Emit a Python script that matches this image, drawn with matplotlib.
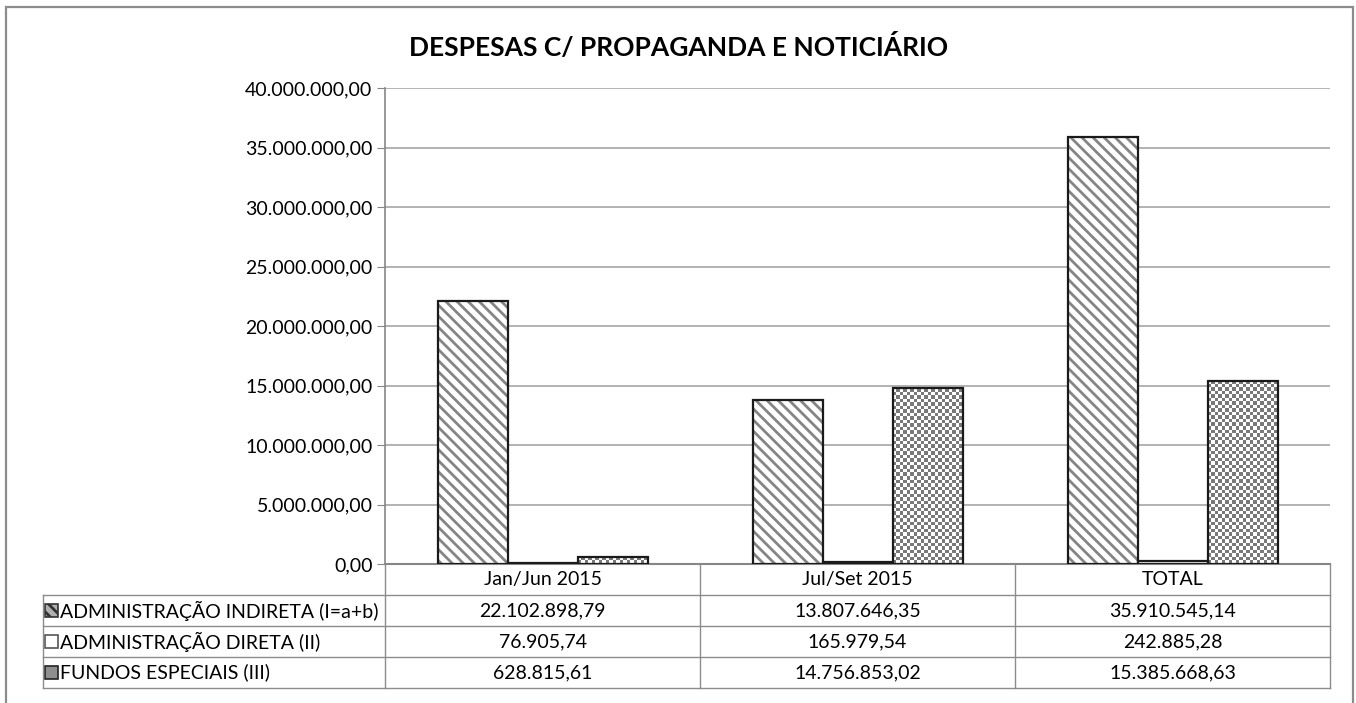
import matplotlib.pyplot as plt
import numpy as np
from matplotlib.patches import Rectangle
from matplotlib.lines import Line2D

plt.rcParams['font.family'] = ['Lato', 'DejaVu Sans']
plt.rcParams['hatch.linewidth'] = 2.0

categories = ['Jan/Jun 2015', 'Jul/Set 2015', 'TOTAL']
series_names = ['ADMINISTRAÇÃO INDIRETA (I=a+b)', 'ADMINISTRAÇÃO DIRETA (II)', 'FUNDOS ESPECIAIS (III)']
indireta = [22102898.79, 13807646.35, 35910545.14]
direta = [76905.74, 165979.54, 242885.28]
fundos = [628815.61, 14756853.02, 15385668.63]
y_ticks = [0, 5e6, 10e6, 15e6, 20e6, 25e6, 30e6, 35e6, 40e6]


def br(v):
    # brazilian number format 1.234.567,89
    return f'{v:,.2f}'.replace(',', 'X').replace('.', ',').replace('X', '.')


W, H = 1356, 703
fs = 14


def fx(px):
    return px / W


def fy(py):
    return 1 - py / H


fig = plt.figure(figsize=(W / 100, H / 100), dpi=100)
ax = fig.add_axes([fx(385), fy(564), 945 / W, 476 / H])

x = np.arange(len(categories))
bw = 70 / 315
grid_c = '#a6a6a6'
edge_c = '#1a1a1a'
line_c = '#8c8c8c'

# diagonal hatched bars (indireta)
ax.bar(x - bw, indireta, bw, color='white', hatch='\\\\\\', edgecolor='#858585', linewidth=0, zorder=3)
ax.bar(x - bw, indireta, bw, fill=False, edgecolor=edge_c, linewidth=1.6, zorder=4)
# white bars (direta)
ax.bar(x, direta, bw, color='white', edgecolor=edge_c, linewidth=1.6, zorder=4)
# checkerboard bars (fundos)
fb = ax.bar(x + bw, fundos, bw, color='white', linewidth=0, zorder=3)
ax.bar(x + bw, fundos, bw, fill=False, edgecolor=edge_c, linewidth=1.6, zorder=4)

ax.set_xlim(-0.5, 2.5)
ax.set_ylim(0, 40e6)

# fill the fundos bars with a checker pattern, cell ~3.5 px
for p in fb:
    x0, y0 = p.get_x(), p.get_y()
    x1, y1 = x0 + p.get_width(), y0 + p.get_height()
    (px0, py0), (px1, py1) = ax.transData.transform([(x0, y0), (x1, y1)])
    nx = max(1, int(round((px1 - px0) / 3.5)))
    ny = max(1, int(round((py1 - py0) / 3.5)))
    chk = (np.add.outer(np.arange(ny), np.arange(nx)) % 2).astype(float)
    im = ax.imshow(chk, cmap='gray', vmin=-0.9, vmax=1.0, extent=(x0, x1, y0, y1),
                   aspect='auto', interpolation='nearest', zorder=3.5, origin='lower')
    im.set_clip_path(p)
ax.set_xlim(-0.5, 2.5)
ax.set_ylim(0, 40e6)

ax.set_yticks(y_ticks)
ax.set_yticklabels([br(v) for v in y_ticks], fontsize=fs)
ax.yaxis.grid(True, color=grid_c, linewidth=1.2, zorder=0)
ax.set_axisbelow(True)
ax.tick_params(axis='y', length=6, color='#868686', pad=3)
ax.set_xticks([])
for s in ['top', 'right']:
    ax.spines[s].set_visible(False)
ax.spines['left'].set_color('#868686')
ax.spines['bottom'].set_color('#868686')
ax.spines['left'].set_linewidth(1.2)
ax.spines['bottom'].set_linewidth(1.5)

# data table under the chart, drawn by hand
col_x = [43, 385, 700, 1015, 1330]
row_y = [564, 595, 626, 657, 688]


def hline(py, a, b):
    fig.add_artist(Line2D([fx(a), fx(b)], [fy(py), fy(py)], color=line_c, linewidth=1.0))


def vline(px, a, b):
    fig.add_artist(Line2D([fx(px), fx(px)], [fy(a), fy(b)], color=line_c, linewidth=1.0))


for py in row_y[1:]:
    hline(py, col_x[0], col_x[-1])
vline(col_x[0], row_y[1], row_y[-1])
for px in col_x[1:]:
    vline(px, row_y[0], row_y[-1])

for j, cat in enumerate(categories):
    cx = (col_x[j + 1] + col_x[j + 2]) / 2
    fig.text(fx(cx), fy((row_y[0] + row_y[1]) / 2), cat, ha='center', va='center', fontsize=fs)

key_styles = [dict(facecolor='#b0b0b0', hatch='\\\\\\', edgecolor='#333333'),
              dict(facecolor='white', edgecolor='#555555'),
              dict(facecolor='#8f8f8f', edgecolor='#222222')]
for i, (name, vals) in enumerate(zip(series_names, (indireta, direta, fundos))):
    cy = (row_y[i + 1] + row_y[i + 2]) / 2
    fig.add_artist(Rectangle((fx(45), fy(cy + 6.5)), 13 / W, 13 / H, transform=fig.transFigure,
                             linewidth=1.2, **key_styles[i]))
    fig.text(fx(60), fy(cy), name, ha='left', va='center', fontsize=fs)
    for j, v in enumerate(vals):
        cx = (col_x[j + 1] + col_x[j + 2]) / 2
        fig.text(fx(cx), fy(cy), br(v), ha='center', va='center', fontsize=fs)

fig.text(fx(679), fy(47), 'DESPESAS C/ PROPAGANDA E NOTICIÁRIO', ha='center', va='center',
         fontsize=19, fontweight='bold')

# outer chart frame
fig.add_artist(Rectangle((fx(6), -0.01), 1347 / W, fy(7) + 0.01, transform=fig.transFigure,
                         fill=False, edgecolor=line_c, linewidth=1.6))

fig.savefig('out.png', dpi=100)
